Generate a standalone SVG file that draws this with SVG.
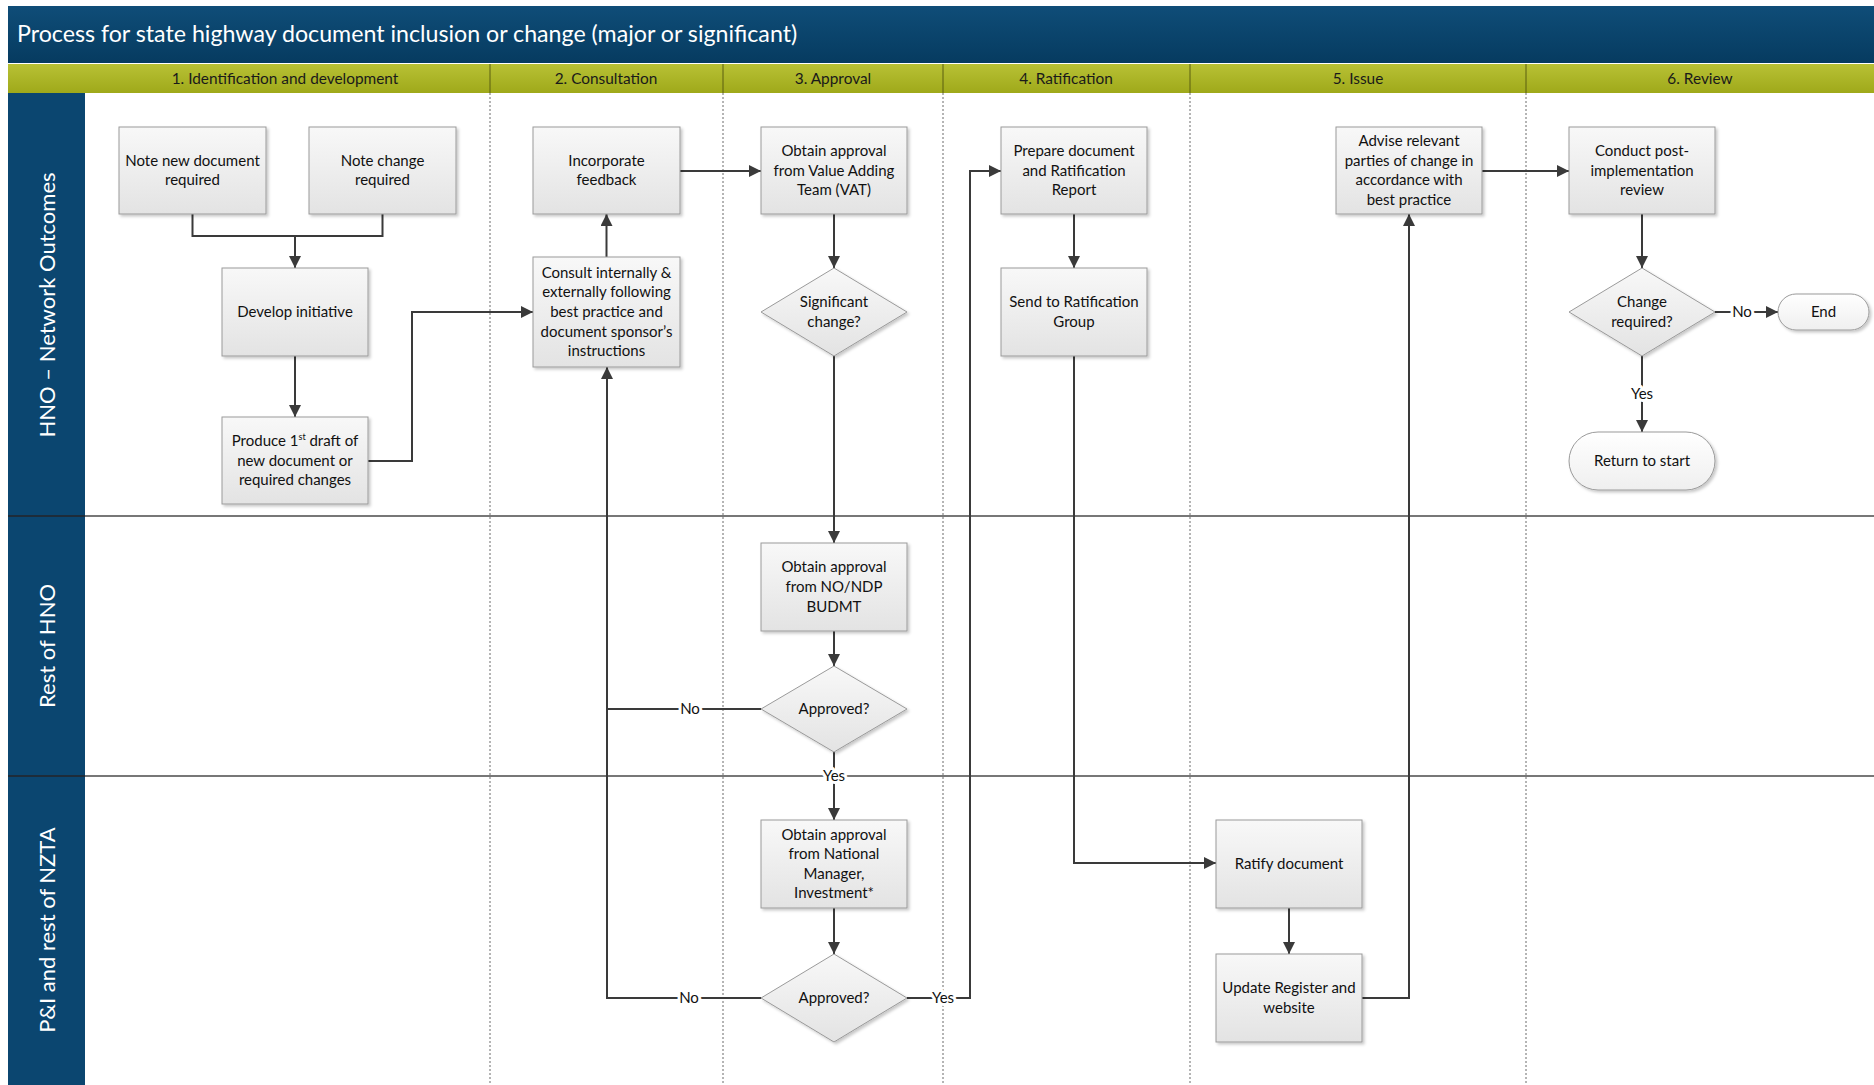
<svg xmlns="http://www.w3.org/2000/svg" width="1874" height="1085" viewBox="0 0 1874 1085">
<defs>
<linearGradient id="gBox" x1="0" y1="0" x2="0" y2="1"><stop offset="0" stop-color="#f8f8f8"/><stop offset="1" stop-color="#e3e3e3"/></linearGradient>
<linearGradient id="gPill" x1="0" y1="0" x2="0" y2="1"><stop offset="0" stop-color="#ffffff"/><stop offset="1" stop-color="#efefef"/></linearGradient>
<linearGradient id="gTitle" x1="0" y1="0" x2="0" y2="1"><stop offset="0" stop-color="#0f4d78"/><stop offset="1" stop-color="#063b60"/></linearGradient>
<linearGradient id="gOlive" x1="0" y1="0" x2="0" y2="1"><stop offset="0" stop-color="#b8c135"/><stop offset="1" stop-color="#9fa91a"/></linearGradient>
<filter id="sh" x="-10%" y="-10%" width="130%" height="130%"><feDropShadow dx="2" dy="2" stdDeviation="1.5" flood-color="#000" flood-opacity="0.22"/></filter>
<marker id="ah" markerUnits="userSpaceOnUse" markerWidth="12" markerHeight="12" viewBox="0 0 12 12" refX="12" refY="6" orient="auto"><path d="M0,0 L12,6 L0,12 z" fill="#3a3a3a"/></marker>
<style>
.box{fill:url(#gBox);stroke:#9a9a9a;stroke-width:1;filter:url(#sh)}
.pill{fill:url(#gPill);stroke:#9a9a9a;stroke-width:1;filter:url(#sh)}
.t{font-family:Lato,"Open Sans","Liberation Sans",sans-serif;font-size:15px;fill:#111111;text-anchor:middle}
.hd{font-family:Lato,"Open Sans","Liberation Sans",sans-serif;font-size:15.4px;fill:#1a1a1a;text-anchor:middle}
.lane{font-family:Lato,"Open Sans","Liberation Sans",sans-serif;font-size:22px;fill:#ffffff;text-anchor:middle}
.c{fill:none;stroke:#3a3a3a;stroke-width:2}
.a{marker-end:url(#ah)}
.lbl{font-family:Lato,"Open Sans","Liberation Sans",sans-serif;font-size:15px;fill:#111111;text-anchor:middle;paint-order:stroke;stroke:#ffffff;stroke-width:6px;stroke-linejoin:round}
.col{stroke:#6a6a6a;stroke-width:1;stroke-dasharray:2 2}
.sep{stroke:#4a4a4a;stroke-width:1.6}
</style>
</defs>

<rect x="0" y="0" width="1874" height="1085" fill="#ffffff"/>

<!-- frame -->
<g id="frame">
<rect x="8" y="6" width="1866" height="57" fill="url(#gTitle)"/>
<text x="17" y="42" font-family="Lato,'Open Sans','Liberation Sans',sans-serif" font-size="23.2" fill="#ffffff">Process for state highway document inclusion or change (major or significant)</text>
<rect x="8" y="64" width="1866" height="29" fill="url(#gOlive)"/>
<g stroke="#5a5e10" stroke-width="1">
<line x1="490" y1="64" x2="490" y2="93"/><line x1="723" y1="64" x2="723" y2="93"/><line x1="943" y1="64" x2="943" y2="93"/><line x1="1190" y1="64" x2="1190" y2="93"/><line x1="1526" y1="64" x2="1526" y2="93"/>
</g>
<text class="hd" x="285" y="83.5">1. Identification and development</text>
<text class="hd" x="606" y="83.5">2. Consultation</text>
<text class="hd" x="833" y="83.5">3. Approval</text>
<text class="hd" x="1066" y="83.5">4. Ratification</text>
<text class="hd" x="1358" y="83.5">5. Issue</text>
<text class="hd" x="1700" y="83.5">6. Review</text>
<rect x="8" y="93" width="77" height="992" fill="#0b4670"/>
<text class="lane" transform="translate(55,305) rotate(-90)">HNO – Network Outcomes</text>
<text class="lane" transform="translate(55,646) rotate(-90)">Rest of HNO</text>
<text class="lane" transform="translate(55,930) rotate(-90)">P&amp;I and rest of NZTA</text>
<g class="col">
<line x1="490" y1="93" x2="490" y2="1085"/><line x1="723" y1="93" x2="723" y2="1085"/><line x1="943" y1="93" x2="943" y2="1085"/><line x1="1190" y1="93" x2="1190" y2="1085"/><line x1="1526" y1="93" x2="1526" y2="1085"/>
</g>
<line class="sep" x1="85" y1="516" x2="1874" y2="516"/>
<line class="sep" x1="85" y1="776" x2="1874" y2="776"/>
<line x1="8" y1="516" x2="85" y2="516" stroke="#1d2c3a" stroke-width="2"/>
<line x1="8" y1="776" x2="85" y2="776" stroke="#1d2c3a" stroke-width="2"/>
</g>

<!-- connectors -->
<g id="connectors">
<path class="c" d="M192.5,214 V236 H382.5 V214"/>
<path class="c a" d="M295,236 V268"/>
<path class="c a" d="M295,356 V417"/>
<path class="c a" d="M368,461 H412 V312 H533"/>
<path class="c a" d="M606.5,257 V214"/>
<path class="c a" d="M680,171 H761"/>
<path class="c a" d="M834,214 V268"/>
<path class="c a" d="M834,356 V543"/>
<path class="c a" d="M834,631 V666"/>
<path class="c" d="M761,709 H607"/>
<path class="c a" d="M761,998 H607 V367"/>
<path class="c a" d="M834,752 V820"/>
<path class="c a" d="M834,908 V954"/>
<path class="c a" d="M907,998 H970 V171 H1001"/>
<path class="c a" d="M1074,214 V268"/>
<path class="c a" d="M1074,356 V863 H1216"/>
<path class="c a" d="M1289,908 V954"/>
<path class="c a" d="M1362,998 H1409 V214"/>
<path class="c a" d="M1482,171 H1569"/>
<path class="c a" d="M1642,214 V268"/>
<path class="c a" d="M1715,312 H1778"/>
<path class="c a" d="M1642,356 V432"/>
<text class="lbl" x="690" y="714">No</text>
<text class="lbl" x="834" y="781">Yes</text>
<text class="lbl" x="689" y="1003">No</text>
<text class="lbl" x="943" y="1003">Yes</text>
<text class="lbl" x="1742" y="317">No</text>
<text class="lbl" x="1642" y="399">Yes</text>
</g>

<!-- nodes -->
<g id="n-note-new"><rect class="box" x="119" y="127" width="147" height="87"/><text class="t" x="192.5" y="165.7">Note new document<tspan x="192.5" dy="19.6">required</tspan></text></g>
<g id="n-note-change"><rect class="box" x="309" y="127" width="147" height="87"/><text class="t" x="382.5" y="165.7">Note change<tspan x="382.5" dy="19.6">required</tspan></text></g>
<g id="n-develop"><rect class="box" x="222" y="268" width="146" height="88"/><text class="t" x="295" y="317">Develop initiative</text></g>
<g id="n-produce"><rect class="box" x="222" y="417" width="146" height="87"/><text class="t" x="295" y="445.9">Produce 1<tspan font-size="9" dy="-6">st</tspan><tspan dy="6"> draft of</tspan></text><text class="t" x="295" y="465.5">new document or<tspan x="295" dy="19.6">required changes</tspan></text></g>
<g id="n-incorporate"><rect class="box" x="533" y="127" width="147" height="87"/><text class="t" x="606.5" y="165.7">Incorporate<tspan x="606.5" dy="19.6">feedback</tspan></text></g>
<g id="n-consult"><rect class="box" x="533" y="257" width="147" height="110"/><text class="t" x="606.5" y="277.8">Consult internally &amp;<tspan x="606.5" dy="19.6">externally following</tspan><tspan x="606.5" dy="19.6">best practice and</tspan><tspan x="606.5" dy="19.6">document sponsor’s</tspan><tspan x="606.5" dy="19.6">instructions</tspan></text></g>
<g id="n-vat"><rect class="box" x="761" y="127" width="146" height="87"/><text class="t" x="834" y="155.9">Obtain approval<tspan x="834" dy="19.6">from Value Adding</tspan><tspan x="834" dy="19.6">Team (VAT)</tspan></text></g>
<g id="n-significant"><polygon class="box" points="834,268 907,312 834,356 761,312"/><text class="t" x="834" y="307.2">Significant<tspan x="834" dy="19.6">change?</tspan></text></g>
<g id="n-nondp"><rect class="box" x="761" y="543" width="146" height="88"/><text class="t" x="834" y="572.4">Obtain approval<tspan x="834" dy="19.6">from NO/NDP</tspan><tspan x="834" dy="19.6">BUDMT</tspan></text></g>
<g id="n-approved1"><polygon class="box" points="834,666 907,709 834,752 761,709"/><text class="t" x="834" y="714">Approved?</text></g>
<g id="n-national"><rect class="box" x="761" y="820" width="146" height="88"/><text class="t" x="834" y="839.6">Obtain approval<tspan x="834" dy="19.6">from National</tspan><tspan x="834" dy="19.6">Manager,</tspan><tspan x="834" dy="19.6">Investment*</tspan></text></g>
<g id="n-approved2"><polygon class="box" points="834,954 907,998 834,1042 761,998"/><text class="t" x="834" y="1003">Approved?</text></g>
<g id="n-prepare"><rect class="box" x="1001" y="127" width="146" height="87"/><text class="t" x="1074" y="155.9">Prepare document<tspan x="1074" dy="19.6">and Ratification</tspan><tspan x="1074" dy="19.6">Report</tspan></text></g>
<g id="n-send"><rect class="box" x="1001" y="268" width="146" height="88"/><text class="t" x="1074" y="307.2">Send to Ratification<tspan x="1074" dy="19.6">Group</tspan></text></g>
<g id="n-ratify"><rect class="box" x="1216" y="820" width="146" height="88"/><text class="t" x="1289" y="869">Ratify document</text></g>
<g id="n-update"><rect class="box" x="1216" y="954" width="146" height="88"/><text class="t" x="1289" y="993.2">Update Register and<tspan x="1289" dy="19.6">website</tspan></text></g>
<g id="n-advise"><rect class="box" x="1336" y="127" width="146" height="87"/><text class="t" x="1409" y="146.1">Advise relevant<tspan x="1409" dy="19.6">parties of change in</tspan><tspan x="1409" dy="19.6">accordance with</tspan><tspan x="1409" dy="19.6">best practice</tspan></text></g>
<g id="n-conduct"><rect class="box" x="1569" y="127" width="146" height="87"/><text class="t" x="1642" y="155.9">Conduct post-<tspan x="1642" dy="19.6">implementation</tspan><tspan x="1642" dy="19.6">review</tspan></text></g>
<g id="n-change"><polygon class="box" points="1642,268 1715,312 1642,356 1569,312"/><text class="t" x="1642" y="307.2">Change<tspan x="1642" dy="19.6">required?</tspan></text></g>
<g id="n-end"><rect class="pill" x="1778" y="294" width="91" height="36" rx="18"/><text class="t" x="1823.5" y="317">End</text></g>
<g id="n-return"><rect class="pill" x="1569" y="432" width="146" height="58" rx="29"/><text class="t" x="1642" y="466">Return to start</text></g>
</svg>
